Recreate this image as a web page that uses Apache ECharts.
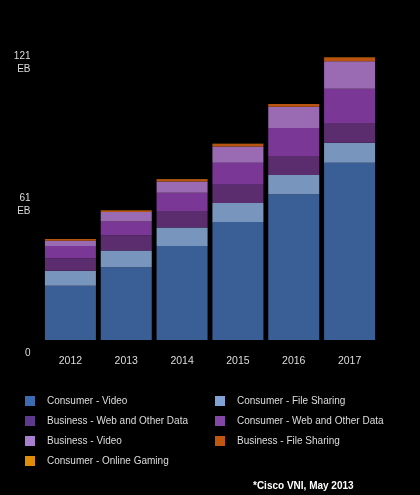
<!DOCTYPE html>
<html>
<head>
<meta charset="utf-8">
<script src="https://cdn.jsdelivr.net/npm/echarts@6/dist/echarts.min.js"></script>
<style>
html,body{margin:0;padding:0;background:#000;}
#chart{width:420px;height:495px;}
</style>
</head>
<body>
<div id="chart"></div>
<script>
const years = ['2012','2013','2014','2015','2016','2017'];
const consumerVideo       = [23.1, 31.0, 40.1, 50.3, 62.1, 75.5];
const consumerFileSharing = [6.4, 7.1, 7.8, 8.1, 8.2, 8.5];
const businessWeb         = [5.3, 6.4, 7.1, 7.7, 8.1, 8.5];
const consumerWeb         = [5.2, 6.0, 7.7, 9.4, 11.9, 14.5];
const businessVideo       = [2.3, 4.0, 4.8, 6.9, 9.1, 11.8];
const businessFileSharing = [0.7, 0.7, 1.0, 1.1, 1.1, 1.6];
const consumerGaming      = [0.05, 0.06, 0.07, 0.08, 0.09, 0.1];
const yTicks = [0, 60.5, 121];

const seriesDefs = [
  {name:'Consumer - Video', data:consumerVideo, color:'#3a5e96', legend:'#3d6bb0'},
  {name:'Consumer - File Sharing', data:consumerFileSharing, color:'#7895be', legend:'#80a2d4'},
  {name:'Business - Web and Other Data', data:businessWeb, color:'#5c2d6e', legend:'#5e3a8c'},
  {name:'Consumer - Web and Other Data', data:consumerWeb, color:'#7a3796', legend:'#8447a8'},
  {name:'Business - Video', data:businessVideo, color:'#9a6bb3', legend:'#a67fcf'},
  {name:'Business - File Sharing', data:businessFileSharing, color:'#b85410', legend:'#c0560f'},
  {name:'Consumer - Online Gaming', data:consumerGaming, color:'#dd8d08', legend:'#dd8d08'}
];

const chart = echarts.init(document.getElementById('chart'), null, {renderer:'canvas'});
const font = 'Liberation Sans, Arial, Helvetica, sans-serif';
const legendItem = (i) => ({name: seriesDefs[i].name, itemStyle:{color: seriesDefs[i].legend}});
const legendCommon = {
  orient:'vertical', itemWidth:10, itemHeight:10, itemGap:10,
  icon:'rect', selectedMode:false, padding:0,
  textStyle:{color:'#dddddd', fontSize:10, lineHeight:10, fontFamily:font, padding:[0,0,0,7]}
};
chart.setOption({
  backgroundColor:'#000',
  animation:false,
  textStyle:{fontFamily:font},
  title:{
    text:'*Cisco VNI, May 2013', left:248, top:476,
    textStyle:{color:'#ffffff', fontSize:10, fontWeight:'bold', fontFamily:font}
  },
  legend:[
    Object.assign({left:25, top:396, data:[legendItem(0),legendItem(2),legendItem(4),legendItem(6)]}, legendCommon),
    Object.assign({left:215, top:396, data:[legendItem(1),legendItem(3),legendItem(5)]}, legendCommon)
  ],
  grid:{left:42.5, right:42.5, top:56, bottom:155},
  xAxis:{
    type:'category', data:years,
    axisLine:{show:false}, axisTick:{show:false},
    axisLabel:{color:'#dddddd', fontSize:10.5, margin:16, fontFamily:font}
  },
  yAxis:{
    type:'value', min:yTicks[0], max:yTicks[2], interval:yTicks[1],
    splitLine:{show:false}, axisLine:{show:false}, axisTick:{show:false},
    axisLabel:{
      color:'#dddddd', fontSize:10, margin:12, lineHeight:13, fontFamily:font,
      formatter:function(v){
        const r = Math.round(v);
        if (r === 0) return ' \n \n0';
        return ' \n' + r + '\nEB';
      }
    }
  },
  series: seriesDefs.map(s => ({
    name:s.name, type:'bar', stack:'total', data:s.data, barWidth:51,
    itemStyle:{color:s.color}
  }))
});
</script>
</body>
</html>
